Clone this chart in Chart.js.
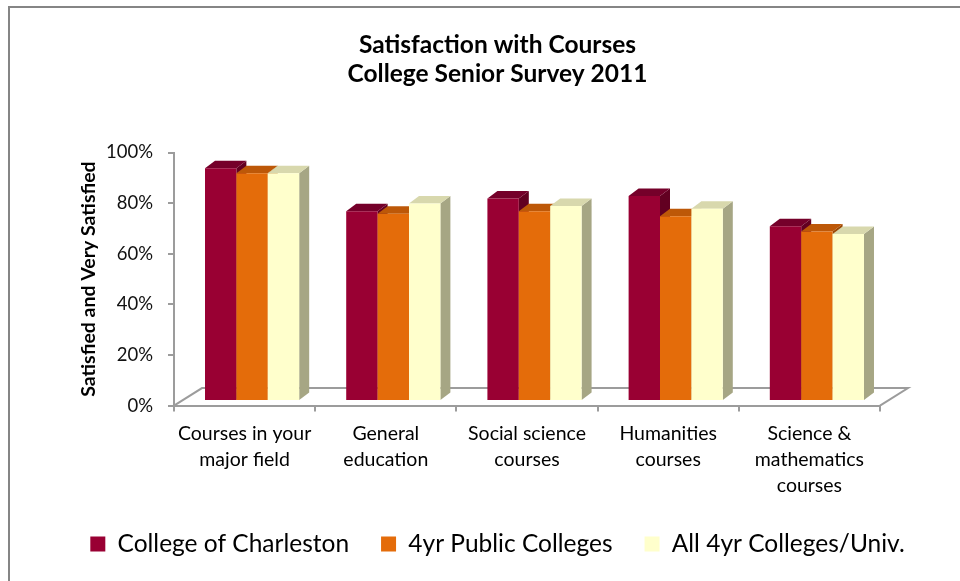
<!DOCTYPE html>
<html>
<head>
<meta charset="utf-8">
<title>Satisfaction with Courses</title>
<script src="https://cdn.jsdelivr.net/npm/chart.js@4.4.1/dist/chart.umd.min.js"></script>
<style>
  html, body { margin: 0; padding: 0; background: #fff; }
  canvas { display: block; }
</style>
</head>
<body>
<canvas id="courses" width="960" height="581"></canvas>
<script>
const categories = [
  ['Courses in your', 'major field'],
  ['General', 'education'],
  ['Social science', 'courses'],
  ['Humanities', 'courses'],
  ['Science &', 'mathematics', 'courses']
];
const charleston = [92, 75, 80, 81, 69];
const publicColleges = [90, 74, 75, 73, 67];
const allColleges = [90, 78, 77, 76, 66];
const yTicks = [0, 20, 40, 60, 80, 100];

const seriesNames = ['College of Charleston', '4yr Public Colleges', 'All 4yr Colleges/Univ.'];
const frontColors = ['#990033', '#e46c0a', '#ffffcc'];
const topColors = ['#75002a', '#bd5808', '#d8d8ad'];
const sideColors = ['#620021', '#9a4806', '#a6a684'];

const axisGray = '#9c9c9c';
const font = 'Lato, "Open Sans", sans-serif';

// bar depth, how far the bars sit behind the floor's front edge, floor depth
const depthX = 10, depthY = -7.5;
const shiftX = 7.5, shiftY = -4.6;
const floorX = 28, floorY = -17.5;

const frame = {
  id: 'frame',
  beforeDraw(chart) {
    const ctx = chart.ctx;
    ctx.save();
    ctx.fillStyle = '#fff';
    ctx.fillRect(0, 0, chart.width, chart.height);
    ctx.strokeStyle = '#858585';
    ctx.lineWidth = 2;
    ctx.strokeRect(9, 7, chart.width + 20, chart.height + 20);
    ctx.restore();
  }
};

// floor outline plus side and top faces, drawn left to right so nearer faces cover farther ones
const bars3d = {
  id: 'bars3d',
  beforeDatasetsDraw(chart) {
    const ctx = chart.ctx;
    const a = chart.chartArea;
    ctx.save();
    ctx.strokeStyle = axisGray;
    ctx.lineWidth = 2;
    ctx.beginPath();
    ctx.moveTo(a.left, a.bottom);
    ctx.lineTo(a.left + floorX, a.bottom + floorY);
    ctx.lineTo(a.right + floorX, a.bottom + floorY);
    ctx.lineTo(a.right, a.bottom);
    ctx.stroke();

    ctx.translate(shiftX, shiftY);
    chart.data.datasets.forEach((ds, i) => {
      chart.getDatasetMeta(i).data.forEach(bar => {
        const {x, y, base, width} = bar.getProps(['x', 'y', 'base', 'width'], true);
        const l = x - width / 2, r = x + width / 2;
        ctx.fillStyle = sideColors[i];
        ctx.beginPath();
        ctx.moveTo(r, base);
        ctx.lineTo(r + depthX, base + depthY);
        ctx.lineTo(r + depthX, y + depthY);
        ctx.lineTo(r, y);
        ctx.closePath();
        ctx.fill();
        ctx.fillStyle = topColors[i];
        ctx.beginPath();
        ctx.moveTo(l, y);
        ctx.lineTo(l + depthX, y + depthY);
        ctx.lineTo(r + depthX, y + depthY);
        ctx.lineTo(r, y);
        ctx.closePath();
        ctx.fill();
        bar.draw(ctx, a);
      });
    });
    ctx.restore();
    return false;
  }
};

new Chart(document.getElementById('courses'), {
  type: 'bar',
  data: {
    labels: categories,
    datasets: [
      { label: seriesNames[0], data: charleston, backgroundColor: frontColors[0] },
      { label: seriesNames[1], data: publicColleges, backgroundColor: frontColors[1] },
      { label: seriesNames[2], data: allColleges, backgroundColor: frontColors[2] }
    ]
  },
  options: {
    responsive: false,
    animation: false,
    devicePixelRatio: 1,
    categoryPercentage: 0.667,
    barPercentage: 1,
    layout: { padding: { left: 35, right: 0, top: 0, bottom: 14.75 } },
    plugins: {
      tooltip: { enabled: false },
      title: {
        display: true,
        text: ['Satisfaction with Courses', 'College Senior Survey 2011'],
        color: '#000',
        font: { family: font, size: 24.5, weight: 'bold', lineHeight: 29 / 24.5 },
        padding: { top: 30.5, bottom: 64 }
      },
      legend: {
        position: 'bottom',
        labels: {
          color: '#000',
          font: { family: font, size: 24.5 },
          boxWidth: 15,
          boxHeight: 15,
          padding: 32
        }
      }
    },
    scales: {
      x: {
        grid: { drawOnChartArea: false, tickLength: 6, color: axisGray, lineWidth: 2 },
        border: { color: axisGray, width: 2 },
        ticks: {
          color: '#000',
          font: { family: font, size: 19.5, lineHeight: 26 / 19.5 },
          padding: 9,
          autoSkip: false,
          maxRotation: 0
        },
        afterFit(scale) { scale.height = 94.15; }
      },
      y: {
        min: 0,
        max: 100,
        afterBuildTicks(scale) { scale.ticks = yTicks.map(v => ({ value: v })); },
        grid: { drawOnChartArea: false, tickLength: 6, color: axisGray, lineWidth: 2 },
        border: { color: axisGray, width: 2 },
        ticks: {
          color: '#111',
          font: { family: font, size: 18.5 },
          padding: 15,
          callback: v => v + '%'
        },
        title: {
          display: true,
          text: 'Satisfied and Very Satisfied',
          color: '#000',
          font: { family: font, size: 19.5, weight: 'bold' },
          padding: { top: 42.3, bottom: 0 }
        },
        afterFit(scale) { scale.width = 139; }
      },
      // empty right-hand margin where the floor runs out to
      margin: {
        position: 'right',
        ticks: { display: false },
        grid: { display: false },
        border: { display: false },
        afterFit(scale) { scale.width = 80; }
      }
    }
  },
  plugins: [frame, bars3d]
});
</script>
</body>
</html>
